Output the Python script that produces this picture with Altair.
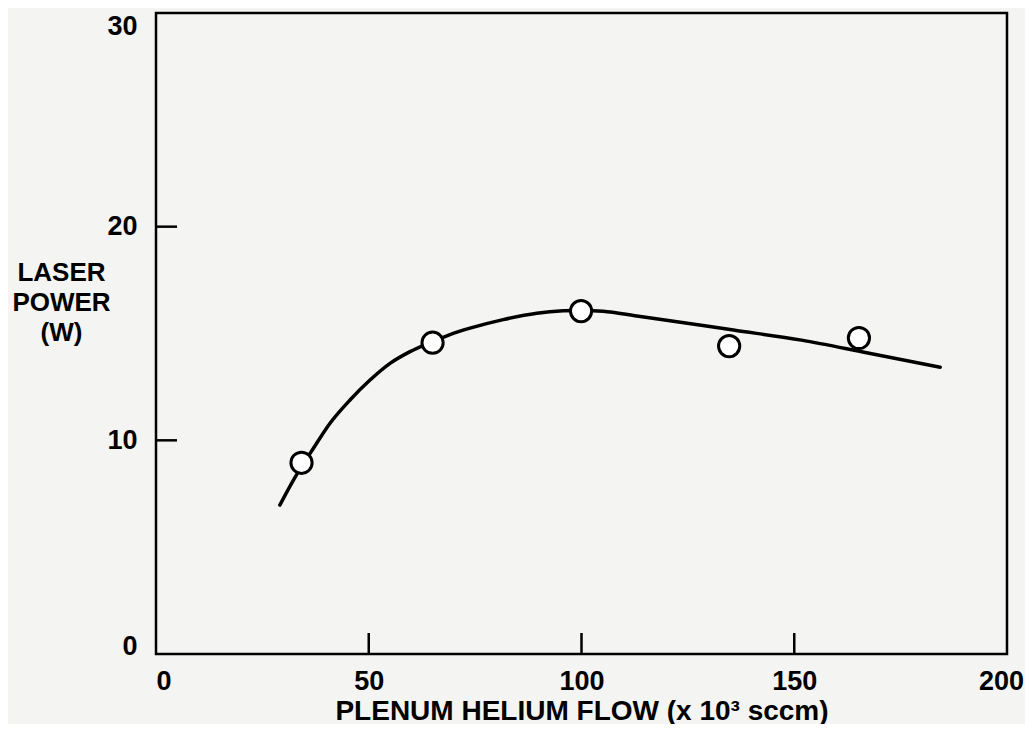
import altair as alt
import pandas as pd

# ---- data ----
x_tick_values = [0, 50, 100, 150, 200]
y_tick_values = [0, 10, 20, 30]
inner_x_ticks = [50, 100, 150]
inner_y_ticks = [10, 20]

point_flow = [34.2, 65.0, 99.9, 134.7, 165.2]
point_power = [8.95, 14.57, 16.05, 14.41, 14.79]

curve_flow = [29.1, 32.3, 37.0, 40.9, 45.6, 50.3, 55.0, 59.7, 65.0, 69.1, 73.8,
              81.6, 89.5, 95.7, 100.0, 105.1, 113.0, 120.8, 135.7, 151.7, 167.0, 184.3]
curve_power = [6.97, 8.14, 9.63, 10.80, 11.89, 12.82, 13.60, 14.15, 14.62, 14.95, 15.25,
               15.65, 15.95, 16.06, 16.08, 16.04, 15.82, 15.60, 15.16, 14.69, 14.10, 13.42]

x_title = "PLENUM HELIUM FLOW (x 10³ sccm)"
y_title = ["LASER", "POWER", "(W)"]

points_df = pd.DataFrame({"flow": point_flow, "power": point_power})
curve_df = pd.DataFrame({"flow": curve_flow, "power": curve_power})
xt_df = pd.DataFrame({"flow": inner_x_ticks})
yt_df = pd.DataFrame({"power": inner_y_ticks})

W, H = 851, 641
FONT = "Liberation Sans"

xs = alt.Scale(domain=[0, 200], nice=False, zero=False)
ys = alt.Scale(domain=[0, 30], nice=False, zero=False)

x_axis = alt.Axis(
    values=x_tick_values, title=x_title, grid=False, domain=False, ticks=False, tickSize=0,
    labelFont=FONT, labelFontSize=27, labelFontWeight="bold", labelColor="black",
    labelPadding=14, labelFlush=False,
    labelAlign={"condition": {"test": "datum.value == 0", "value": "left"}, "value": "center"},
    labelOffset={"condition": {"test": "datum.value == 200", "value": -6}, "value": 0},
    titleFont=FONT, titleFontSize=28, titleFontWeight="bold", titleColor="black",
    titleY=65, titleBaseline="alphabetic",
)
y_axis = alt.Axis(
    values=y_tick_values, title=y_title, grid=False, domain=False, ticks=False, tickSize=0,
    labelFont=FONT, labelFontSize=27, labelFontWeight="bold", labelColor="black",
    labelPadding=19, labelFlush=False,
    labelBaseline={"condition": [{"test": "datum.value == 30", "value": "top"},
                                 {"test": "datum.value == 0", "value": "alphabetic"}],
                   "value": "middle"},
    titleFont=FONT, titleFontSize=26, titleFontWeight="bold", titleColor="black",
    titleAngle=0, titleX=-95, titleY=246, titleAlign="center", titleBaseline="top",
    titleLineHeight=30,
)

xticks = alt.Chart(xt_df).mark_rule(color="black", strokeWidth=2.5).encode(
    x=alt.X("flow:Q", scale=xs, axis=x_axis),
    y=alt.value(H), y2=alt.value(H - 21),
)
yticks = alt.Chart(yt_df).mark_rule(color="black", strokeWidth=2.5).encode(
    y=alt.Y("power:Q", scale=ys, axis=y_axis),
    x=alt.value(0), x2=alt.value(21),
)
curve = alt.Chart(curve_df).mark_line(
    color="black", strokeWidth=3.5, interpolate="monotone", strokeCap="round"
).encode(
    x=alt.X("flow:Q", scale=xs, axis=x_axis),
    y=alt.Y("power:Q", scale=ys, axis=y_axis),
)
points = alt.Chart(points_df).mark_point(
    shape="circle", filled=True, fill="white", stroke="black", strokeWidth=3,
    size=450, opacity=1,
).encode(
    x=alt.X("flow:Q", scale=xs, axis=x_axis),
    y=alt.Y("power:Q", scale=ys, axis=y_axis),
)

chart = alt.layer(xticks, yticks, curve, points).properties(
    width=W, height=H,
    autosize=alt.AutoSizeParams(type="none"),
    padding={"left": 148, "top": 5, "right": 18, "bottom": 70},
    background="#f4f4f2",
).configure_view(stroke="black", strokeWidth=2.5)

chart.save("out.html", embed_options={"renderer": "svg", "actions": False})
